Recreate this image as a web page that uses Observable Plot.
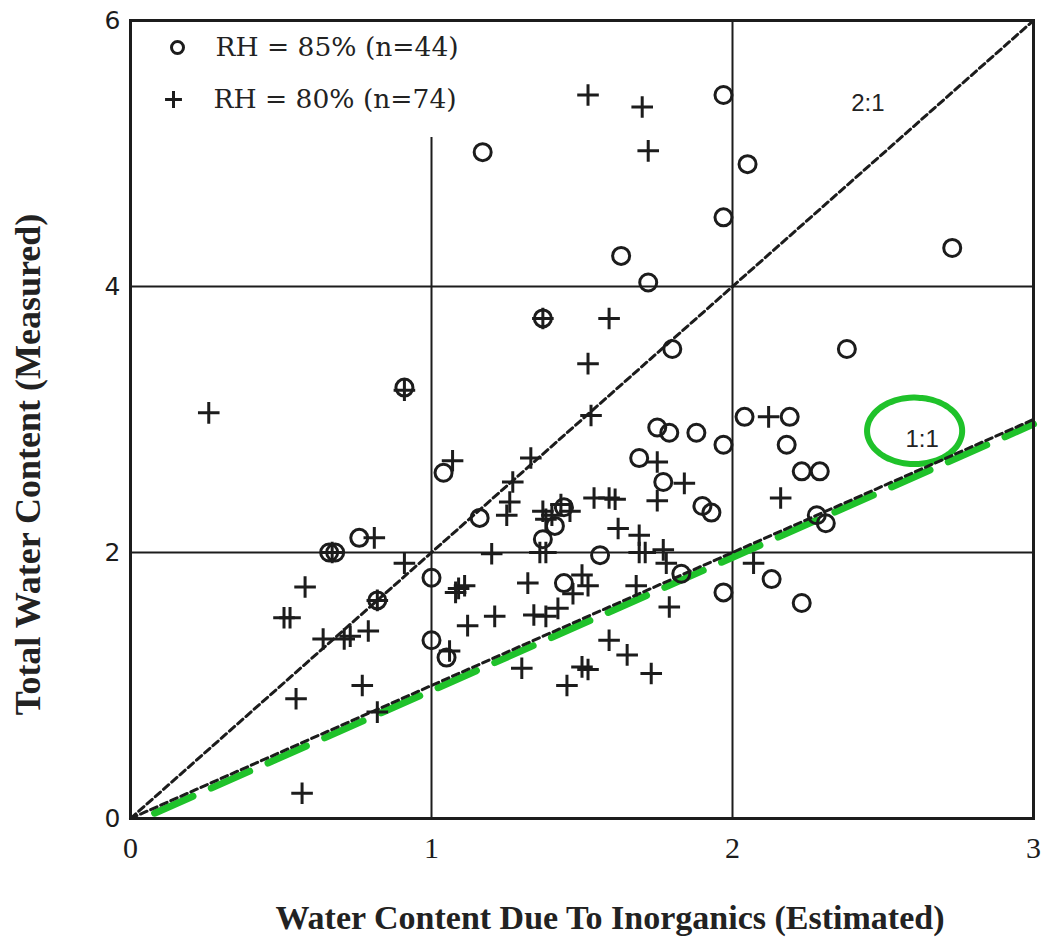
<!DOCTYPE html>
<html>
<head>
<meta charset="utf-8">
<script src="https://cdn.jsdelivr.net/npm/d3@7"></script>
<script src="https://cdn.jsdelivr.net/npm/@observablehq/plot@0.6"></script>
<style>
  html, body { margin: 0; padding: 0; background: #ffffff; }
  #chart { width: 1046px; height: 941px; }
  svg { display: block; }
</style>
</head>
<body>
<div id="chart"></div>
<script>
// ---- Data ----
// RH = 85% (circles, n=44)
const circleX = [1.17, 1.97, 1.97, 1.63, 1.72, 2.05, 2.73, 0.91, 0.66, 0.68,
                 0.76, 1.37, 1.80, 1.75, 1.79, 1.88, 1.97, 1.69, 1.77, 1.90,
                 1.93, 1.04, 1.16, 1.44, 1.41, 1.37, 2.38, 2.04, 2.19, 2.18,
                 2.23, 2.29, 2.28, 2.31, 0.82, 1.00, 1.00, 1.05, 1.56, 1.44,
                 1.83, 1.97, 2.13, 2.23];
const circleY = [5.01, 5.44, 4.52, 4.23, 4.03, 4.92, 4.29, 3.24, 2.00, 2.00,
                 2.11, 3.76, 3.53, 2.94, 2.90, 2.90, 2.81, 2.71, 2.53, 2.35,
                 2.30, 2.60, 2.26, 2.34, 2.20, 2.10, 3.53, 3.02, 3.02, 2.81,
                 2.61, 2.61, 2.28, 2.22, 1.64, 1.81, 1.34, 1.21, 1.98, 1.77,
                 1.84, 1.70, 1.80, 1.62];
// RH = 80% (plus signs, n=74)
const plusX = [1.52, 1.70, 1.72, 0.26, 0.91, 0.81, 1.37, 1.59, 1.52, 1.53,
               1.07, 1.33, 1.27, 1.26, 1.25, 1.37, 1.40, 1.46, 1.38, 1.54,
               1.59, 1.75, 1.84, 1.75, 1.62, 1.69, 1.69, 1.71, 1.77, 1.20,
               1.36, 1.38, 2.12, 2.16, 0.58, 0.51, 0.53, 0.64, 0.71, 0.73,
               0.79, 0.55, 0.77, 0.82, 0.57, 0.91, 1.08, 1.09, 1.11, 1.32,
               1.50, 1.52, 1.47, 1.68, 1.21, 1.12, 1.34, 1.38, 1.42, 1.06,
               1.79, 1.59, 1.65, 1.73, 1.30, 1.50, 1.52, 1.45, 1.78, 2.07,
               0.82, 0.67, 1.43, 1.61];
const plusY = [5.44, 5.35, 5.02, 3.05, 3.22, 2.11, 3.76, 3.76, 3.42, 3.03,
               2.69, 2.71, 2.53, 2.38, 2.28, 2.31, 2.28, 2.31, 2.25, 2.41,
               2.41, 2.68, 2.52, 2.39, 2.18, 2.13, 2.00, 2.00, 2.02, 1.99,
               2.00, 2.00, 3.02, 2.41, 1.74, 1.51, 1.51, 1.35, 1.35, 1.37,
               1.41, 0.90, 1.00, 0.80, 0.19, 1.92, 1.70, 1.73, 1.75, 1.77,
               1.83, 1.75, 1.69, 1.75, 1.52, 1.45, 1.53, 1.52, 1.58, 1.26,
               1.59, 1.34, 1.23, 1.09, 1.13, 1.14, 1.12, 1.00, 1.92, 1.92,
               1.64, 2.00, 2.36, 2.40];

const legendLabels = ["RH = 85% (n=44)", "RH = 80% (n=74)"];
const xTicks = [0, 1, 2, 3];
const yTicks = [0, 2, 4, 6];
const xTitle = "Water Content Due To Inorganics (Estimated)";
const yTitle = "Total Water Content (Measured)";

// reference lines: ratio lines through the origin
const ratioLines = [{label: "2:1", slope: 2, lx: 2.45, ly: 5.38},
                    {label: "1:1", slope: 1, lx: 2.63, ly: 2.85}];
// hand-drawn green annotation (data units)
const greenDashFrom = [0.08, 0.04], greenDashTo = [3.0, 2.965];
const loopCenter = [2.605, 2.915], loopRadii = [0.158, 0.25];

// ---- derived tables ----
const circles = circleX.map((x, i) => ({x, y: circleY[i]}));
const pluses = plusX.map((x, i) => ({x, y: plusY[i]}));
const lineRows = ratioLines.flatMap(l => [{x: 0, y: 0, k: l.label}, {x: 3, y: 3 * l.slope, k: l.label}]);
const greenRows = [{x: greenDashFrom[0], y: greenDashFrom[1]}, {x: greenDashTo[0], y: greenDashTo[1]}];
const loopRows = d3.range(0, 73).map(i => {
  const t = -0.9 + i / 72 * 2 * Math.PI * 1.02;
  return {x: loopCenter[0] + loopRadii[0] * Math.cos(t), y: loopCenter[1] + loopRadii[1] * Math.sin(t)};
});

const ink = "#1c1c1c";
const green = "#1fc22a";

const chart = Plot.plot({
  width: 1046,
  height: 941,
  marginLeft: 130,
  marginRight: 13,
  marginTop: 20,
  marginBottom: 123,
  x: {domain: [0, 3]},
  y: {domain: [0, 6]},
  style: {background: "#ffffff", color: ink},
  marks: [
    // grid lines
    Plot.ruleX([1], {y1: 0, y2: 5.12, stroke: ink, strokeWidth: 2}),
    Plot.ruleX([2], {stroke: ink, strokeWidth: 2}),
    Plot.ruleY([2, 4], {stroke: ink, strokeWidth: 2}),
    // green hand-drawn dashes along 1:1
    Plot.line(greenRows, {x: "x", y: "y", stroke: green, strokeWidth: 7, strokeDasharray: "42,20", strokeLinecap: "round"}),
    Plot.line(loopRows, {x: "x", y: "y", stroke: green, strokeWidth: 6, curve: "catmull-rom"}),
    // ratio lines
    Plot.line(lineRows, {x: "x", y: "y", z: "k", stroke: ink, strokeWidth: 3, strokeDasharray: "7,4"}),
    Plot.text(ratioLines, {x: "lx", y: "ly", text: "label", fontSize: 24, fontWeight: 500, fontFamily: "Liberation Sans, Arial, sans-serif", fill: "#222"}),
    // data
    Plot.dot(circles, {x: "x", y: "y", symbol: "circle", r: 8.5, stroke: ink, strokeWidth: 3, fill: "none"}),
    Plot.dot(pluses, {x: "x", y: "y", symbol: "plus", r: 7, stroke: ink, strokeWidth: 3}),
    // legend inside the frame
    Plot.dot([legendLabels[0]], {frameAnchor: "top-left", dx: 47, dy: 27, symbol: "circle", r: 6, stroke: ink, strokeWidth: 3, fill: "none"}),
    Plot.dot([legendLabels[1]], {frameAnchor: "top-left", dx: 43, dy: 79, symbol: "plus", r: 5.5, stroke: ink, strokeWidth: 3}),
    Plot.text([legendLabels[0]], {frameAnchor: "top-left", dx: 85, dy: 27, text: d => d, textAnchor: "start", lineAnchor: "middle", fontSize: 26.5, fontFamily: "DejaVu Serif, serif", fill: "#222"}),
    Plot.text([legendLabels[1]], {frameAnchor: "top-left", dx: 83, dy: 79, text: d => d, textAnchor: "start", lineAnchor: "middle", fontSize: 26.5, fontFamily: "DejaVu Serif, serif", fill: "#222"}),
    // frame
    Plot.frame({stroke: ink, strokeWidth: 3}),
    // axes
    Plot.axisX(xTicks, {tickSize: 0, tickPadding: 18, tickFormat: d3.format("d"), fontSize: 30, fontFamily: "Liberation Serif, serif", label: null}),
    Plot.axisY(yTicks, {tickSize: 0, tickPadding: 10, tickFormat: d3.format("d"), fontSize: 25, fontFamily: "DejaVu Sans, sans-serif", label: null}),
    // axis titles
    Plot.text([xTitle], {frameAnchor: "bottom", dx: 28, dy: 100, text: d => d, textAnchor: "middle", lineAnchor: "middle", fontSize: 34, fontWeight: "bold", fontFamily: "Liberation Serif, serif", fill: "#222"}),
    Plot.text([yTitle], {frameAnchor: "left", dx: -102, dy: 45, rotate: -90, text: d => d, textAnchor: "middle", lineAnchor: "middle", fontSize: 36, fontWeight: "bold", fontFamily: "Liberation Serif, serif", fill: "#222"})
  ]
});
document.getElementById("chart").appendChild(chart);
</script>
</body>
</html>
